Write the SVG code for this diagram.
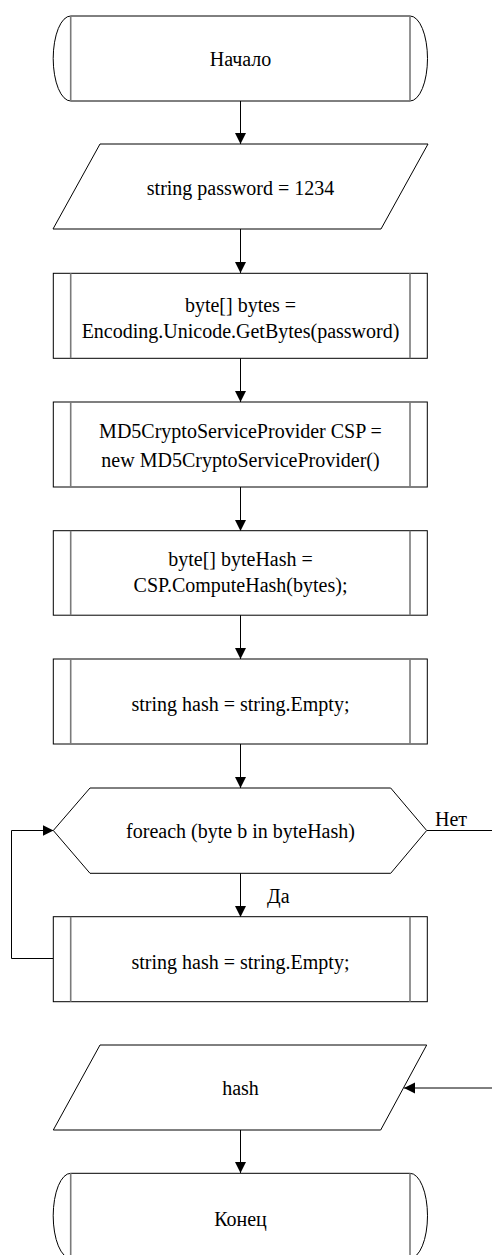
<svg xmlns="http://www.w3.org/2000/svg" width="492" height="1255" viewBox="0 0 492 1255">
<defs>
<style>
.sh{fill:#fff;stroke:#000;stroke-width:1}
.in{stroke:#7a7a7a;stroke-width:1.6;fill:none}
.t{font-family:'Liberation Serif','Tinos','Times New Roman','DejaVu Serif',serif;font-size:20px;fill:#000;text-anchor:middle}
.lb{font-family:'Liberation Serif','Tinos','Times New Roman','DejaVu Serif',serif;font-size:20px;fill:#000}
.c{fill:none;stroke:#000;stroke-width:1}
</style>
<marker id="ar" markerUnits="userSpaceOnUse" markerWidth="12" markerHeight="12" viewBox="0 0 12 12" refX="11" refY="6" orient="auto">
<path d="M0,0.5 L11,6 L0,11.5 Z" fill="#000"/>
</marker>
</defs>
<rect width="492" height="1255" fill="#fff"/>
<g id="connectors">
<path class="c" d="M240.5,101 V144" marker-end="url(#ar)"/>
<path class="c" d="M240.5,229 V273" marker-end="url(#ar)"/>
<path class="c" d="M240.5,358 V402" marker-end="url(#ar)"/>
<path class="c" d="M240.5,487 V531" marker-end="url(#ar)"/>
<path class="c" d="M240.5,615 V659" marker-end="url(#ar)"/>
<path class="c" d="M240.5,744 V788" marker-end="url(#ar)"/>
<path class="c" d="M240.5,873 V917" marker-end="url(#ar)"/>
<path class="c" d="M53.5,958.5 H11.5 V830.5 H53.5" marker-end="url(#ar)"/>
<path class="c" d="M427,830.5 H492"/>
<path class="c" d="M492,1088 H404" marker-end="url(#ar)"/>
<path class="c" d="M240.5,1130 V1173" marker-end="url(#ar)"/>
<text class="lb" x="435" y="826" font-family="Liberation Serif, serif">Нет</text>
<text class="lb" x="267" y="903" font-family="Liberation Serif, serif">Да</text>
</g>
<g id="start">
<path class="sh" d="M70.7,16 H410 A17.5,42.5 0 0 1 410,101 H70.7 A17.5,42.5 0 0 1 70.7,16 Z"/>
<path class="in" d="M70.7,16 V101 M410,16 V101"/>
<text class="t" x="240.5" y="66">Начало</text>
</g>
<g id="input-password">
<path class="sh" d="M100,144 H428 L381,229 H53 Z"/>
<text class="t" x="240.5" y="195">string password = 1234</text>
</g>
<g id="get-bytes">
<rect class="sh" x="53.3" y="273.3" width="374" height="85"/>
<path class="in" d="M70.7,273.3 V358.3 M410,273.3 V358.3"/>
<text class="t" x="240.5" y="311.5">byte[] bytes =</text>
<text class="t" x="240.5" y="337.5">Encoding.Unicode.GetBytes(password)</text>
</g>
<g id="md5">
<rect class="sh" x="53.3" y="402" width="374" height="85"/>
<path class="in" d="M70.7,402 V487 M410,402 V487"/>
<text class="t" x="240.5" y="437.5">MD5CryptoServiceProvider CSP =</text>
<text class="t" x="240.5" y="466.5">new MD5CryptoServiceProvider()</text>
</g>
<g id="compute-hash">
<rect class="sh" x="53.3" y="530.7" width="374" height="84.5"/>
<path class="in" d="M70.7,530.7 V615.2 M410,530.7 V615.2"/>
<text class="t" x="240.5" y="565.5">byte[] byteHash =</text>
<text class="t" x="240.5" y="591.5">CSP.ComputeHash(bytes);</text>
</g>
<g id="init-hash">
<rect class="sh" x="53.3" y="659" width="374" height="85"/>
<path class="in" d="M70.7,659 V744 M410,659 V744"/>
<text class="t" x="240.5" y="710.5">string hash = string.Empty;</text>
</g>
<g id="foreach">
<path class="sh" d="M53.3,830.5 L90,788 H390.7 L426.7,830.5 L390.7,873.3 H90 Z"/>
<text class="t" x="240.5" y="837.5">foreach (byte b in byteHash)</text>
</g>
<g id="loop-body">
<rect class="sh" x="53.3" y="916.7" width="374" height="85"/>
<path class="in" d="M70.7,916.7 V1001.7 M410,916.7 V1001.7"/>
<text class="t" x="240.5" y="968.5">string hash = string.Empty;</text>
</g>
<g id="output-hash">
<path class="sh" d="M100,1045 H426.7 L380.7,1130 H53.3 Z"/>
<text class="t" x="240.5" y="1095">hash</text>
</g>
<g id="end">
<path class="sh" d="M70.7,1173.3 H410 A17.5,42.5 0 0 1 410,1258.3 H70.7 A17.5,42.5 0 0 1 70.7,1173.3 Z"/>
<path class="in" d="M70.7,1173.3 V1258.3 M410,1173.3 V1258.3"/>
<text class="t" x="240.5" y="1226">Конец</text>
</g>
</svg>
